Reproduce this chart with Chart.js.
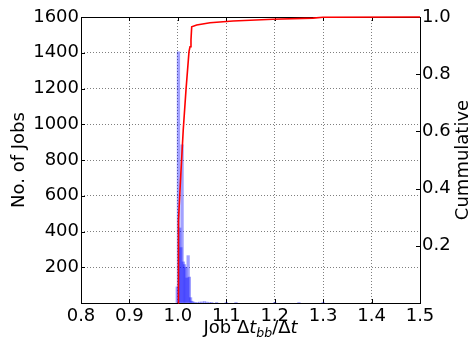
<!DOCTYPE html>
<html><head><meta charset="utf-8">
<script src="https://cdn.jsdelivr.net/npm/chart.js@4.4.1/dist/chart.umd.min.js"></script>
<style>html,body{margin:0;padding:0;background:#fff;overflow:hidden}</style>
</head><body>
<canvas id="c" width="474" height="346" style="width:474px;height:346px;display:block"></canvas>
<script>
// ---- data ----
const binCenters = [0.99875, 1.00125, 1.00375, 1.00625, 1.00875, 1.01125, 1.01375, 1.01625, 1.01875, 1.02125, 1.02375, 1.02625, 1.02875, 1.03125, 1.035, 1.04, 1.045, 1.05, 1.055, 1.06, 1.065, 1.07, 1.08, 1.1, 1.12, 1.2, 1.25, 1.3];
const jobCounts  = [90, 1405, 420, 310, 885, 230, 215, 200, 140, 265, 145, 30, 10, 6, 4, 3, 5, 6, 8, 5, 3, 2, 2, 1, 1, 1, 1, 1];
const cumX = [1.0005, 1.0013, 1.0061, 1.0111, 1.0168, 1.0230, 1.0251, 1.0271, 1.0286, 1.0389, 1.0664, 1.1139, 1.1965, 1.279, 1.2997, 1.5];
const cumY = [0.0, 0.29, 0.45, 0.605, 0.745, 0.879, 0.896, 0.92, 0.966, 0.972, 0.98, 0.986, 0.992, 0.996, 0.999, 1.0];
const xTickLabels = ['0.8','0.9','1.0','1.1','1.2','1.3','1.4','1.5'];
const leftTickValues = [200, 400, 600, 800, 1000, 1200, 1400, 1600];
const rightTickValues = [0.2, 0.4, 0.6, 0.8, 1.0];
const yLabel = 'No. of Jobs';
const y2Label = 'Cummulative';

const FONT = '"DejaVu Sans", sans-serif';

const framePlugin = {
  id: 'frame',
  beforeDatasetsDraw(chart) {
    const {ctx, chartArea: a, scales} = chart;
    ctx.save();
    ctx.strokeStyle = '#000';
    ctx.lineWidth = 1;
    ctx.beginPath();
    scales.x.ticks.forEach(t => {
      const px = Math.round(scales.x.getPixelForValue(t.value)) + 0.5;
      ctx.moveTo(px, a.bottom); ctx.lineTo(px, a.bottom - 4);
      ctx.moveTo(px, a.top); ctx.lineTo(px, a.top + 4);
    });
    scales.y.ticks.forEach(t => {
      const py = Math.round(scales.y.getPixelForValue(t.value)) + 0.5;
      ctx.moveTo(a.left, py); ctx.lineTo(a.left + 4, py);
    });
    scales.y1.ticks.forEach(t => {
      const py = Math.round(scales.y1.getPixelForValue(t.value)) + 0.5;
      ctx.moveTo(a.right, py); ctx.lineTo(a.right - 4, py);
    });
    ctx.stroke();
    ctx.strokeRect(Math.round(a.left) + 0.5, Math.round(a.top) + 0.5, Math.round(a.right - a.left), Math.round(a.bottom - a.top));
    ctx.restore();
  },
  afterDraw(chart) {
    const {ctx, chartArea: a} = chart;
    ctx.save();
    ctx.fillStyle = '#000';
    ctx.textBaseline = 'alphabetic';
    ctx.save();
    ctx.translate(24, (a.top + a.bottom) / 2);
    ctx.rotate(-Math.PI / 2);
    ctx.font = '18px ' + FONT;
    ctx.textAlign = 'center';
    ctx.fillText(yLabel, 0, 0);
    ctx.restore();
    ctx.save();
    ctx.translate(468, (a.top + a.bottom) / 2);
    ctx.rotate(-Math.PI / 2);
    ctx.font = '18px ' + FONT;
    ctx.textAlign = 'center';
    ctx.fillText(y2Label, 0, 0);
    ctx.restore();
    const parts = [
      ['Job ', 'normal', 18, 0],
      ['\u0394', 'normal', 18, 0],
      ['t', 'italic', 18, 0],
      ['bb', 'italic', 12.5, 4],
      ['/', 'normal', 18, 0],
      ['\u0394', 'normal', 18, 0],
      ['t', 'italic', 18, 0]
    ];
    let total = 0;
    parts.forEach(p => { ctx.font = p[1] + ' ' + p[2] + 'px ' + FONT; p.w = ctx.measureText(p[0]).width; total += p.w; });
    let x = (a.left + a.right) / 2 - total / 2;
    const base = a.bottom + 30;
    ctx.textAlign = 'left';
    parts.forEach(p => { ctx.font = p[1] + ' ' + p[2] + 'px ' + FONT; ctx.fillText(p[0], x, base + p[3]); x += p.w; });
    ctx.restore();
  }
};

const tickFont = {family: FONT, size: 18};
const gridColor = 'rgba(0,0,0,0.5)';

new Chart(document.getElementById('c'), {
  type: 'bar',
  data: {
    datasets: [
      {
        type: 'line',
        label: y2Label,
        data: cumX.map((x, i) => ({x: x, y: cumY[i]})),
        yAxisID: 'y1',
        borderColor: '#ff0000',
        borderWidth: 1.6,
        pointRadius: 0,
        tension: 0,
        fill: false,
        clip: 2,
        order: 0
      },
      {
        type: 'bar',
        label: yLabel,
        data: binCenters.map((x, i) => ({x: x, y: jobCounts[i]})),
        yAxisID: 'y',
        backgroundColor: 'rgba(0,0,255,0.37)',
        borderWidth: 0,
        barThickness: 2.6,
        order: 1
      }
    ]
  },
  options: {
    responsive: false,
    animation: false,
    devicePixelRatio: 1,
    layout: {padding: {top: 17, left: 0, right: 0, bottom: 0}},
    plugins: {legend: {display: false}, tooltip: {enabled: false}},
    scales: {
      x: {
        type: 'linear', min: 0.8, max: 1.5, offset: false,
        afterBuildTicks: s => { s.ticks = xTickLabels.map(v => ({value: parseFloat(v)})); },
        ticks: {font: tickFont, color: '#000', padding: 3, maxRotation: 0, autoSkip: false,
                callback: (v, i) => xTickLabels[i]},
        grid: {color: gridColor, lineWidth: 1, drawTicks: false, offset: false},
        border: {display: false, dash: [1, 2]},
        afterFit: s => { s.height = 43; }
      },
      y: {
        type: 'linear', position: 'left', min: 0, max: 1600,
        afterBuildTicks: s => { s.ticks = [0].concat(leftTickValues).map(v => ({value: v})); },
        ticks: {font: tickFont, color: '#000', padding: 2,
                callback: v => (v === 0 ? '' : String(v))},
        grid: {color: gridColor, lineWidth: 1, drawTicks: false},
        border: {display: false, dash: [1, 2]},
        afterFit: s => { s.width = 81; }
      },
      y1: {
        type: 'linear', position: 'right', min: 0, max: 1,
        afterBuildTicks: s => { s.ticks = [0].concat(rightTickValues).map(v => ({value: v})); },
        ticks: {font: tickFont, color: '#000', padding: 2,
                callback: v => (v === 0 ? '' : v.toFixed(1))},
        grid: {display: false, drawTicks: false},
        border: {display: false},
        afterFit: s => { s.width = 54; }
      }
    }
  },
  plugins: [framePlugin]
});
</script>
</body></html>
